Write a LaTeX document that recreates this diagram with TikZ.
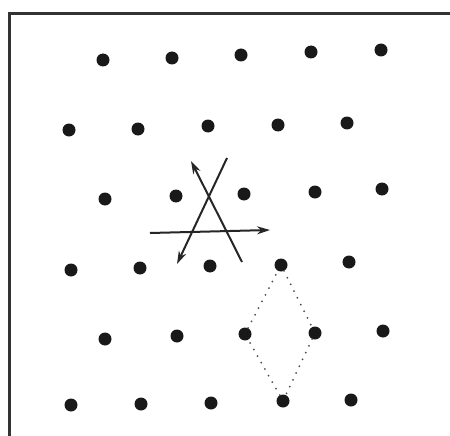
\documentclass[tikz,border=0pt]{standalone}
\usetikzlibrary{arrows.meta}
\begin{document}
\begin{tikzpicture}[x=1pt,y=-1pt,
  dot/.style={circle,fill=black!90,inner sep=0pt,minimum size=13pt},
  frameline/.style={line width=3pt,draw=black!80},
  vec/.style={line width=2pt,draw=black!85,-{Stealth[length=13pt,width=8pt]}},
  dotline/.style={line width=2pt,draw=black!70,dash pattern=on 0pt off 7.5pt,line cap=round}]
\useasboundingbox (0,0) rectangle (450,436);
\fill[white] (0,0) rectangle (450,436);
\draw[frameline] (455,14) -- (9,14) -- (9,440);
% row 1
\node[dot] (d11) at (103,60) {};
\node[dot] (d12) at (172,58) {};
\node[dot] (d13) at (241,55) {};
\node[dot] (d14) at (311,52) {};
\node[dot] (d15) at (381,50) {};
% row 2
\node[dot] (d21) at (69,130) {};
\node[dot] (d22) at (138,129) {};
\node[dot] (d23) at (208,126) {};
\node[dot] (d24) at (278,125) {};
\node[dot] (d25) at (347,123) {};
% row 3
\node[dot] (d31) at (105,199) {};
\node[dot] (d32) at (176,196) {};
\node[dot] (d33) at (244,194) {};
\node[dot] (d34) at (315,192) {};
\node[dot] (d35) at (382,189) {};
% row 4
\node[dot] (d41) at (71,270) {};
\node[dot] (d42) at (140,268) {};
\node[dot] (d43) at (210,266) {};
\node[dot] (d44) at (281,265) {};
\node[dot] (d45) at (349,262) {};
% row 5
\node[dot] (d51) at (105,339) {};
\node[dot] (d52) at (177,336) {};
\node[dot] (d53) at (245,334) {};
\node[dot] (d54) at (315,333) {};
\node[dot] (d55) at (383,331) {};
% row 6
\node[dot] (d61) at (71,405) {};
\node[dot] (d62) at (141,404) {};
\node[dot] (d63) at (211,403) {};
\node[dot] (d64) at (283,401) {};
\node[dot] (d65) at (351,400) {};
% arrows
\coordinate (a1s) at (150,233);
\coordinate (a1e) at (270,230);
\coordinate (a2s) at (227,158);
\coordinate (a2e) at (177,264);
\coordinate (a3s) at (242,262);
\coordinate (a3e) at (191,161);
\draw[vec] (a1s) -- (a1e);
\draw[vec] (a2s) -- (a2e);
\draw[vec] (a3s) -- (a3e);
% dotted rhombus
\draw[dotline] (d44) -- (d54) -- (d64) -- (d53) -- (d44);
\end{tikzpicture}
\end{document}
